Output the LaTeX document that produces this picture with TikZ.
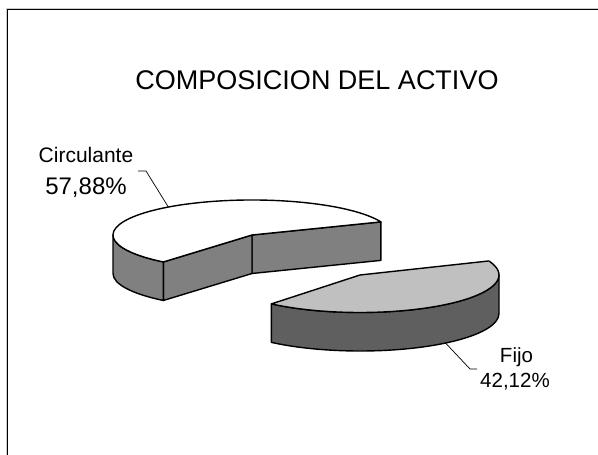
\documentclass[tikz,border=0pt]{standalone}
\usepackage{fontspec}
\setmainfont{Liberation Sans}
\usetikzlibrary{calc}
\definecolor{sideA}{HTML}{808080}
\definecolor{topB}{HTML}{C0C0C0}
\definecolor{sideB}{HTML}{5F5F5F}
\tikzset{
  outl/.style={draw=black, line width=1.4pt, line join=round},
  topone/.style={outl, fill=white},
  sideone/.style={outl, fill=sideA},
  toptwo/.style={outl, fill=topB},
  sidetwo/.style={outl, fill=sideB},
  leader/.style={draw=black, line width=0.7pt},
  lbl/.style={anchor=base, inner sep=0pt},
  frameline/.style={draw=black, line width=1.3pt},
}
\begin{document}
\begin{tikzpicture}[x=1pt,y=1pt]
\useasboundingbox (0,0) rectangle (598,455);
\fill[white] (0,0) rectangle (598,455);
% frame
\draw[gray!40, line width=0.6pt] (6,0) -- (6,447) -- (598,447);
\draw[frameline] (7.5,0) -- (7.5,445.5) -- (598,445.5);
% title
\node[lbl] (title) at (317,365) {\fontsize{27}{31}\selectfont COMPOSICION DEL ACTIVO};
% Circulante slice
\coordinate (C1) at (252,220);
\coordinate (C1b) at (252,181.5);
\coordinate (R1) at ($(C1)+(22:139pt and 35pt)$);
\coordinate (F1) at ($(C1)+(230.4:139pt and 35pt)$);
\coordinate (L1) at ($(C1)+(180:139pt and 35pt)$);
\filldraw[sideone] (C1) -- (R1) -- ++(0,-38.5) -- (C1b) -- cycle;
\filldraw[sideone] (C1) -- (F1) -- ++(0,-38.5) -- (C1b) -- cycle;
\filldraw[sideone] (L1) arc[start angle=180, end angle=230.4, x radius=139pt, y radius=35pt]
  -- ++(0,-38.5) arc[start angle=230.4, end angle=180, x radius=139pt, y radius=35pt] -- cycle;
\filldraw[topone] (C1) -- (R1) arc[start angle=22, end angle=230.4, x radius=139pt, y radius=35pt] -- cycle;
% Fijo slice
\coordinate (C2) at (360,180);
\coordinate (F2) at ($(C2)+(230.4:139pt and 37.5pt)$);
\filldraw[sidetwo] (F2) arc[start angle=230.4, end angle=360, x radius=139pt, y radius=37.5pt]
  -- ++(0,-38.5) arc[start angle=360, end angle=230.4, x radius=139pt, y radius=37.5pt] -- cycle;
\filldraw[toptwo] (C2) -- (F2) arc[start angle=230.4, end angle=382, x radius=139pt, y radius=37.5pt] -- cycle;
% labels
\node[lbl] (circ) at (86,292) {\fontsize{21}{24}\selectfont Circulante};
\node[lbl] (circp) at (86,260) {\fontsize{24}{28}\selectfont 57,88\%};
\node[lbl] (fijo) at (516.5,92) {\fontsize{20.5}{24}\selectfont Fijo};
\node[lbl] (fijop) at (515,67) {\fontsize{20.5}{24}\selectfont 42,12\%};
% leaders
\coordinate (la) at (138,284);
\coordinate (lb) at (146,284);
\coordinate (lc) at ($(C1)+(127:139pt and 35pt)$);
\draw[leader] (la) -- (lb) -- (lc);
\coordinate (ma) at ($(C2)+(0,-38.5)+(-52:139pt and 37.5pt)$);
\coordinate (mb) at (470,86);
\coordinate (mc) at (477,86);
\draw[leader] (ma) -- (mb) -- (mc);
\end{tikzpicture}
\end{document}
